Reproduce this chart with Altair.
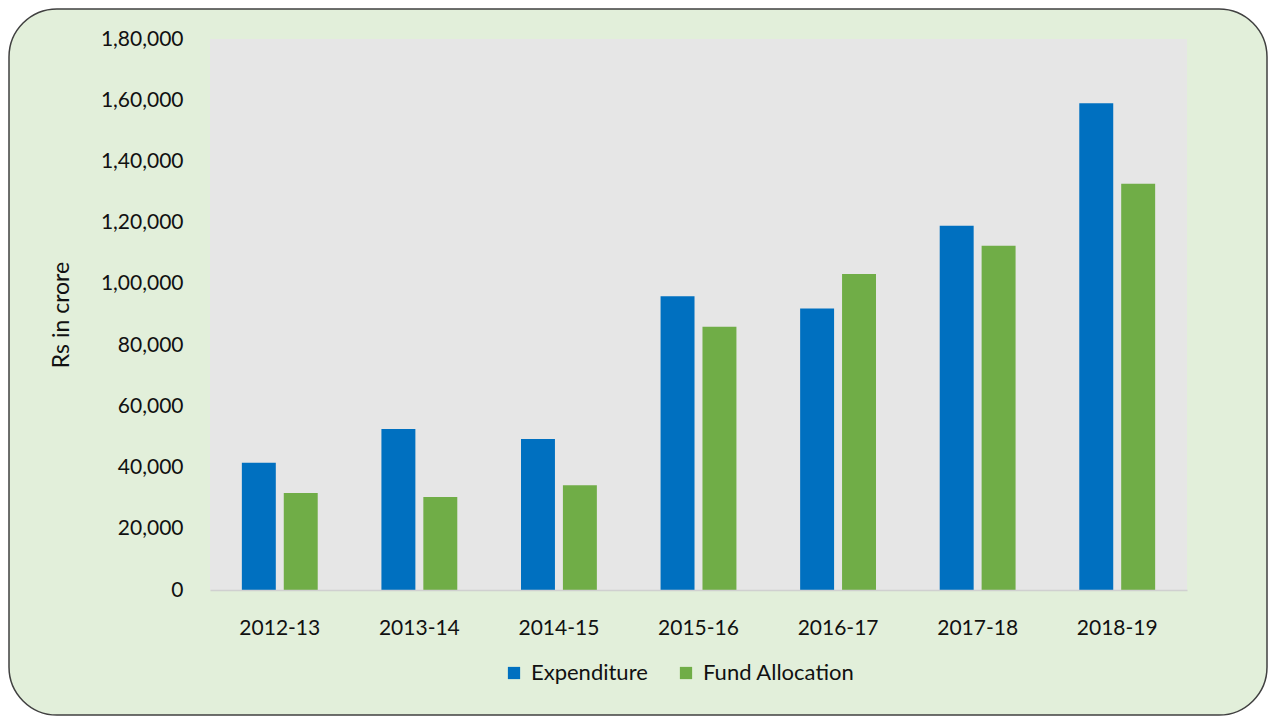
import altair as alt
import pandas as pd

years = ["2012-13", "2013-14", "2014-15", "2015-16", "2016-17", "2017-18", "2018-19"]
expenditure = [41600, 52600, 49300, 96000, 92000, 119000, 159000]
fund_allocation = [31700, 30400, 34200, 86000, 103200, 112500, 132700]
series_names = ["Expenditure", "Fund Allocation"]
series_colors = ["#0070C0", "#70AD47"]
y_tick_values = [0, 20000, 40000, 60000, 80000, 100000, 120000, 140000, 160000, 180000]
y_tick_labels = ["0", "20,000", "40,000", "60,000", "80,000", "1,00,000",
                 "1,20,000", "1,40,000", "1,60,000", "1,80,000"]

rows = []
for i, yr in enumerate(years):
    rows.append({"year": yr, "series": series_names[0], "value": expenditure[i]})
    rows.append({"year": yr, "series": series_names[1], "value": fund_allocation[i]})
df = pd.DataFrame(rows)

W, H = 977, 551
PAD_L, PAD_T = 202, 31
PAD_R, PAD_B = 1260 - PAD_L - W, 708 - PAD_T - H

FONT = "Lato"
TXT = "#111111"

frame = alt.Chart(pd.DataFrame({"k": [0]})).mark_rect(
    fill="#E2EFDA", stroke="#404040", strokeWidth=1.5, cornerRadius=48
).encode(
    x=alt.value(-PAD_L + 1), x2=alt.value(W + PAD_R - 1),
    y=alt.value(-PAD_T + 1), y2=alt.value(H + PAD_B - 1),
)

plot_bg = alt.Chart(pd.DataFrame({"k": [0]})).mark_rect(
    fill="#E6E6E6"
).encode(
    x=alt.value(0), x2=alt.value(W), y=alt.value(0), y2=alt.value(H)
)

label_expr = "[" + ",".join("'%s'" % s for s in y_tick_labels) + "][indexof([" + \
    ",".join(str(v) for v in y_tick_values) + "], datum.value)]"

bars = alt.Chart(df).mark_bar().encode(
    x=alt.X("year:N", sort=years, title=None,
            scale=alt.Scale(paddingInner=0, paddingOuter=0),
            axis=alt.Axis(labelAngle=0, labelFontSize=21, labelFont=FONT,
                          labelColor=TXT, labelPadding=27, ticks=False,
                          domain=True, domainColor="#D0D0D0", domainWidth=1.5,
                          zindex=1)),
    xOffset=alt.XOffset("series:N", sort=series_names,
                        scale=alt.Scale(paddingInner=0.19, paddingOuter=0.76)),
    y=alt.Y("value:Q", title="Rs in crore",
            scale=alt.Scale(domain=[0, 180000], nice=False),
            axis=alt.Axis(values=y_tick_values, labelExpr=label_expr,
                          labelFontSize=21, labelFont=FONT, labelColor=TXT,
                          labelPadding=27, ticks=False, domain=False, grid=False,
                          titleFont=FONT, titleFontSize=23, titleFontWeight="normal",
                          titleColor=TXT, titlePadding=27, zindex=1)),
    color=alt.Color("series:N", sort=series_names,
                    scale=alt.Scale(domain=series_names, range=series_colors),
                    legend=alt.Legend(title=None, orient="none", legendX=293, legendY=623,
                                      direction="horizontal", symbolType="square",
                                      symbolSize=150, symbolStrokeWidth=0,
                                      labelFont=FONT, labelFontSize=22,
                                      labelColor=TXT, columnPadding=27,
                                      labelOffset=6, zindex=1)),
)

chart = alt.layer(frame, plot_bg, bars).properties(
    width=W, height=H,
    autosize=alt.AutoSizeParams(type="none"),
    padding={"left": PAD_L, "top": PAD_T, "right": PAD_R, "bottom": PAD_B},
    background="white",
).configure_view(stroke=None)

chart.save("out.html", embed_options={"renderer": "svg", "actions": False})
